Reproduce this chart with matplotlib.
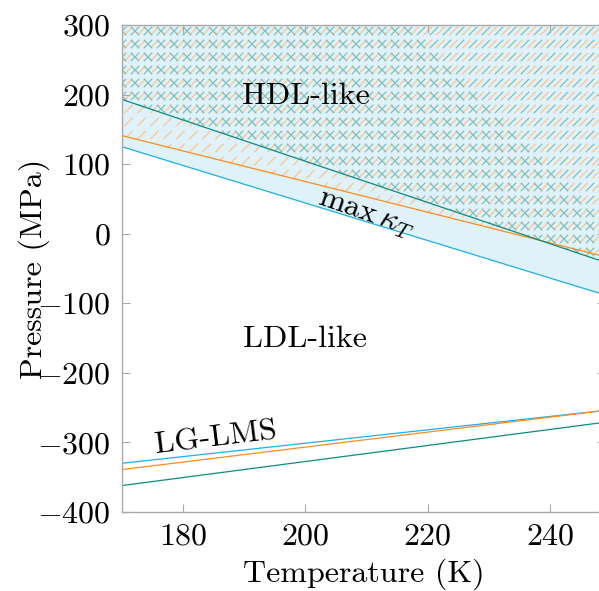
import matplotlib
matplotlib.use("Agg")
import matplotlib.pyplot as plt
from matplotlib.lines import Line2D
from matplotlib.transforms import IdentityTransform
import numpy as np

plt.rcParams['font.family'] = 'cmr10'
plt.rcParams['mathtext.fontset'] = 'cm'
plt.rcParams['axes.formatter.use_mathtext'] = True
plt.rcParams['font.size'] = 23
plt.rcParams['lines.scale_dashes'] = False

# endpoints of the lines (T in K, P in MPa)
T = [170, 249]
kt_cyan = [125, -88]      # max kappa_T lines
kt_orange = [141, -33]
kt_teal = [193, -41]
lms_cyan = [-330, -254]   # LG-LMS lines
lms_orange = [-339, -254]
lms_teal = [-362, -271]

c_cyan = '#1ab0ec'
c_orange = '#ff8c1a'
c_teal = '#0e8a80'
c_fill = '#dff2fa'

W, H = 599, 591
fig = plt.figure(figsize=(W / 100, H / 100), dpi=100)
rect = [0.2037, 0.1337, 0.8063, 0.824]
ax = fig.add_axes(rect)
L, B = rect[0] * W, rect[1] * H

ymax = 300
ax.fill_between(T, kt_cyan, ymax, color=c_fill, lw=0, zorder=1)
orange_reg = ax.fill_between(T, kt_orange, ymax, facecolor='none', lw=0)
teal_reg = ax.fill_between(T, kt_teal, ymax, facecolor='none', lw=0)


# pattern like pgfplots: short dashes on a 13 px grid, clipped to the region
def hatch(region, color, dirs, x0, step=13.0, dash_px=12.0):
    s2 = np.sqrt(2)
    gap_px = step * s2 - dash_px
    dashes = (dash_px * 0.72, gap_px * 0.72)
    a = dash_px / 2 / s2
    for d in dirs:
        for i in range(-60, 60):
            cx = L + x0 + step * i
            cy = B
            # move the start along the line until it lies on the canvas
            while not (a < cx < W - a) and cy < H:
                cx += d * step
                cy += step
            if cy >= H:
                continue
            sx, sy = cx - d * a, cy - a
            ln = Line2D([sx, sx + d * 700], [sy, sy + 700], transform=IdentityTransform(),
                        color=color, lw=0.9, dashes=dashes, zorder=1.5, dash_capstyle='butt')
            ln.set_clip_path(region.get_paths()[0], region.get_transform())
            ax.add_artist(ln)


hatch(orange_reg, '#ffc48a', [1], 6.5)
hatch(teal_reg, '#80bfbb', [1, -1], 0.0)

for y, c in [(kt_cyan, c_cyan), (kt_orange, c_orange), (kt_teal, c_teal),
             (lms_cyan, c_cyan), (lms_orange, c_orange), (lms_teal, c_teal)]:
    ax.plot(T, y, color=c, lw=0.9, zorder=2)

ax.text(200, 198, 'HDL-like', ha='center', va='center')
ax.text(200, -152, 'LDL-like', ha='center', va='center')
ax.text(209.9, 28, r'$\max\,\kappa_T$', ha='center', va='center', rotation=-19)
ax.text(185.3, -294, 'LG-LMS', ha='center', va='center', rotation=7)

ax.set_xlim(170, 249)
ax.set_ylim(-400, 300)
ax.set_xticks([180, 200, 220, 240])
ax.set_yticks(np.arange(-400, 301, 100))
ax.set_xlabel('Temperature (K)', labelpad=6)
ax.set_ylabel('Pressure (MPa)', labelpad=-9)
ax.tick_params(direction='in', length=6, color='#aaaaaa', top=True, right=True, width=0.8, pad=8)
for s in ax.spines.values():
    s.set_color('#aaaaaa')
    s.set_linewidth(1.0)

fig.savefig('out.png', dpi=100)
